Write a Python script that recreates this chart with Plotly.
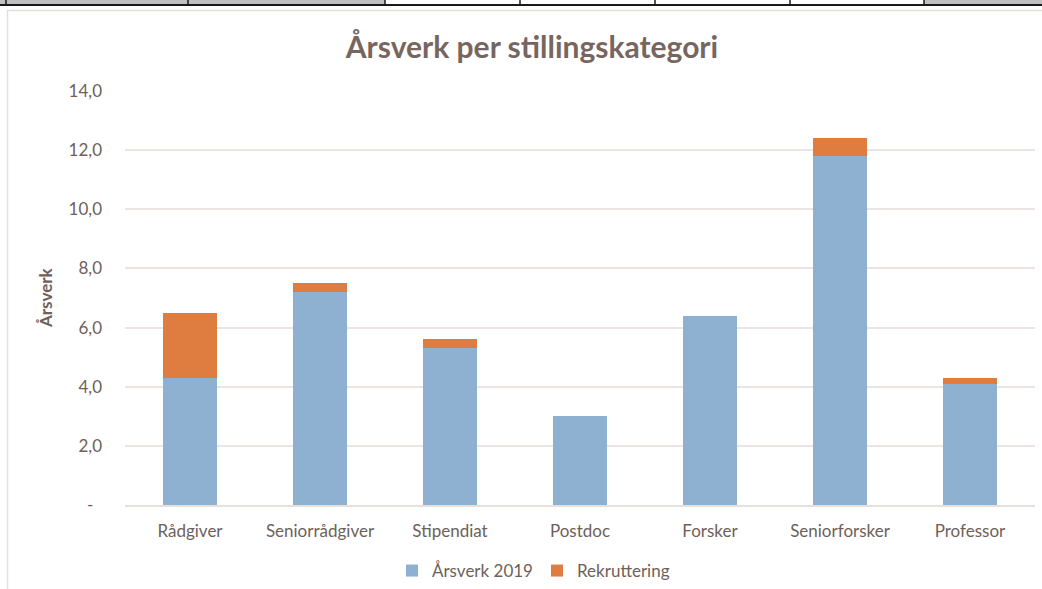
import plotly.graph_objects as go

categories = ["Rådgiver", "Seniorrådgiver", "Stipendiat", "Postdoc", "Forsker", "Seniorforsker", "Professor"]
arsverk_2019 = [4.3, 7.2, 5.3, 3.0, 6.4, 11.8, 4.1]
rekruttering = [2.2, 0.3, 0.3, 0.0, 0.0, 0.6, 0.2]
y_tickvals = [0, 2, 4, 6, 8, 10, 12, 14]
y_ticktext = ["-\u00a0\u00a0", "2,0", "4,0", "6,0", "8,0", "10,0", "12,0", "14,0"]

W, H = 1042, 589
L, R, T, B = 125, 7, 91, 84
pw, ph = W - L - R, H - T - B

def px(x):
    return (x - L) / pw

def py(y):
    return (H - B - y) / ph

FONT = "Lato, Carlito, 'Open Sans', sans-serif"
TXT = "#6E5F5A"
FS = 17

fig = go.Figure()
fig.add_trace(go.Bar(
    x=categories, y=arsverk_2019, name="Årsverk 2019",
    marker=dict(color="#8FB1D1", line=dict(width=0)),
))
fig.add_trace(go.Bar(
    x=categories, y=rekruttering, name="Rekruttering",
    marker=dict(color="#DF7C3F", line=dict(width=0)),
))

shapes = []
# spreadsheet strip at top
shapes.append(dict(type="rect", xref="paper", yref="paper", x0=px(0), x1=px(385), y0=py(0), y1=py(5),
                   fillcolor="#C0C0C0", line=dict(width=0), layer="below"))
shapes.append(dict(type="rect", xref="paper", yref="paper", x0=px(924), x1=px(1042), y0=py(0), y1=py(5),
                   fillcolor="#C0C0C0", line=dict(width=0), layer="below"))
shapes.append(dict(type="line", xref="paper", yref="paper", x0=px(0), x1=px(1042), y0=py(5), y1=py(5),
                   line=dict(color="#1A1A1A", width=2)))
for xv in [6, 188, 385, 520, 655, 790, 924]:
    shapes.append(dict(type="line", xref="paper", yref="paper", x0=px(xv), x1=px(xv), y0=py(0), y1=py(5),
                       line=dict(color="#1A1A1A", width=1.5)))
# chart border
shapes.append(dict(type="rect", xref="paper", yref="paper", x0=px(7.5), x1=px(1046), y0=py(10.5), y1=py(595),
                   fillcolor="rgba(0,0,0,0)", line=dict(color="#E6E1DF", width=1.5)))

fig.update_layout(
    width=W, height=H,
    margin=dict(l=L, r=R, t=T, b=B, autoexpand=False),
    barmode="stack",
    bargap=0.59,
    plot_bgcolor="white", paper_bgcolor="white",
    font=dict(family=FONT, color=TXT, size=FS),
    title=dict(text="<b>Årsverk per stillingskategori</b>", xref="container", x=532 / W, xanchor="center",
               yref="container", y=1 - 47 / H, yanchor="middle",
               font=dict(size=30, color="#77665F", family=FONT)),
    xaxis=dict(showgrid=False, showline=True, linecolor="#E6E1DF", linewidth=1.5, automargin=False,
               ticks="", ticklabelstandoff=10, tickfont=dict(size=FS, color=TXT)),
    yaxis=dict(range=[0, 14], tickvals=y_tickvals, ticktext=y_ticktext, showgrid=True, automargin=False,
               gridcolor="#EAE5E3", gridwidth=1.5, zeroline=False, showline=False,
               ticks="", ticklabelstandoff=22, tickfont=dict(size=FS, color=TXT)),
    legend=dict(orientation="h", x=px(537), xanchor="center", y=py(571), yanchor="middle",
                font=dict(size=FS, color=TXT), traceorder="normal",
                entrywidth=100, entrywidthmode="pixels"),
    shapes=shapes,
    annotations=[dict(text="<b>Årsverk</b>", xref="paper", yref="paper", x=px(45), y=py(298),
                      textangle=-90, showarrow=False, font=dict(size=FS, color=TXT, family=FONT),
                      xanchor="center", yanchor="middle")],
    showlegend=True,
)

fig.write_html("out.html", config={"displayModeBar": False})

with open("out.html", "r", encoding="utf-8") as f:
    html = f.read()
html = html.replace("<head>", "<head><style>html,body{margin:0;padding:0;overflow:hidden;}</style>", 1)
with open("out.html", "w", encoding="utf-8") as f:
    f.write(html)
